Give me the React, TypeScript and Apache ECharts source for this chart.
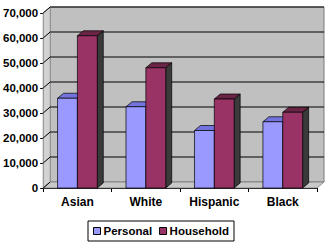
import React, { useEffect, useRef } from "react";
import * as echarts from "echarts";

const categories = ["Asian", "White", "Hispanic", "Black"];
const personal = [35900, 32500, 23000, 26500];
const household = [60900, 48100, 35600, 30300];
const yTicks = [0, 10000, 20000, 30000, 40000, 50000, 60000, 70000];

const FONT = "'Liberation Sans', Arial, sans-serif";
const WALL_DX = 7;
const WALL_DY = -6;
const BAR_DX = 6;
const BAR_DY = -5;

const seriesStyles = [
  { name: "Personal", front: "#9999FF", top: "#7373DD", side: "#5050A8" },
  { name: "Household", front: "#993366", top: "#6A2446", side: "#3A3A3A" },
];

const r = (v: number) => Math.round(v) + 0.5;

export default function App() {
  const ref = useRef<HTMLDivElement>(null);
  useEffect(() => {
    if (!ref.current) return;
    const chart = echarts.init(ref.current, undefined, { renderer: "svg" });

    const wallsRender = (params: any, api: any) => {
      const cs = params.coordSys;
      const x = cs.x;
      const y = cs.y;
      const w = cs.width;
      const h = cs.height;
      const right = x + w;
      const bottom = y + h;
      const children: any[] = [];
      children.push({
        type: "rect",
        shape: { x: x + WALL_DX, y: y + WALL_DY, width: w, height: h },
        style: { fill: "#C0C0C0", stroke: "#7a7a7a", lineWidth: 1 },
      });
      children.push({
        type: "polygon",
        shape: {
          points: [
            [x, y],
            [x + WALL_DX, y + WALL_DY],
            [x + WALL_DX, bottom + WALL_DY],
            [x, bottom],
          ],
        },
        style: { fill: "#D2D2D2", stroke: "#8a8a8a", lineWidth: 0.8 },
      });
      children.push({
        type: "polygon",
        shape: {
          points: [
            [x, bottom],
            [x + WALL_DX, bottom + WALL_DY],
            [right + WALL_DX, bottom + WALL_DY],
            [right, bottom],
          ],
        },
        style: { fill: "#C8C8C8", stroke: "#7a7a7a", lineWidth: 0.8 },
      });
      yTicks.forEach((v) => {
        const py = api.coord([0, v])[1];
        if (v !== 0) {
          children.push({
            type: "line",
            shape: {
              x1: x + WALL_DX,
              y1: r(py + WALL_DY) - 0.5,
              x2: right + WALL_DX,
              y2: r(py + WALL_DY) - 0.5,
            },
            style: { stroke: "#000", lineWidth: 1 },
          });
        }
        children.push({
          type: "line",
          shape: { x1: x, y1: py, x2: x + WALL_DX, y2: py + WALL_DY },
          style: { stroke: "#000", lineWidth: 1 },
        });
      });
      return { type: "group", children };
    };

    const barRender = (s: number) => (params: any, api: any) => {
      const i = api.value(0);
      const v = api.value(1);
      const base = api.coord([i, 0]);
      const top = api.coord([i, v]);
      const band = api.size([1, 0])[0];
      const bw = band * 0.29;
      const x0 = base[0] - bw + s * bw;
      const x1 = x0 + bw;
      const ty = top[1];
      const by = base[1];
      const st = seriesStyles[s];
      const stroke = { stroke: "#000", lineWidth: 0.7 };
      return {
        type: "group",
        children: [
          {
            type: "polygon",
            shape: {
              points: [
                [x1, ty],
                [x1 + BAR_DX, ty + BAR_DY],
                [x1 + BAR_DX, by + BAR_DY],
                [x1, by],
              ],
            },
            style: { fill: st.side, ...stroke },
          },
          {
            type: "polygon",
            shape: {
              points: [
                [x0, ty],
                [x1, ty],
                [x1 + BAR_DX, ty + BAR_DY],
                [x0 + BAR_DX, ty + BAR_DY],
              ],
            },
            style: { fill: st.top, ...stroke },
          },
          {
            type: "rect",
            shape: { x: x0, y: ty, width: bw, height: by - ty },
            style: { fill: st.front, ...stroke },
          },
        ],
      };
    };

    const option: any = {
      animation: false,
      backgroundColor: "#ffffff",
      textStyle: { fontFamily: FONT },
      grid: { left: 43, right: 13, top: 13, bottom: 60, containLabel: false },
      legend: {
        left: 88,
        top: 221,
        padding: [4, 5, 4, 5],
        borderColor: "#000",
        borderWidth: 1,
        itemWidth: 7,
        itemHeight: 7,
        itemGap: 7,
        icon: "rect",
        itemStyle: { borderColor: "#000", borderWidth: 1 },
        textStyle: {
          fontFamily: FONT,
          fontWeight: "bold",
          fontSize: 11.5,
          color: "#000",
          padding: [0, 0, 0, -2],
        },
        data: ["Personal", "Household"],
      },
      xAxis: {
        type: "category",
        data: categories,
        axisLine: { lineStyle: { color: "#000", width: 1 } },
        axisTick: { show: true, interval: 0, length: 4, lineStyle: { color: "#000" } },
        axisLabel: {
          interval: 0,
          margin: 8,
          color: "#000",
          fontFamily: FONT,
          fontWeight: "bold",
          fontSize: 12,
        },
        splitLine: { show: false },
      },
      yAxis: {
        type: "value",
        min: 0,
        max: 70000,
        interval: 10000,
        axisLine: { show: true, lineStyle: { color: "#000", width: 1 } },
        axisTick: { show: true, length: 3, lineStyle: { color: "#000" } },
        axisLabel: {
          margin: 5,
          color: "#000",
          fontFamily: FONT,
          fontWeight: "bold",
          fontSize: 11.5,
          formatter: (val: number) => val.toLocaleString("en-US"),
        },
        splitLine: { show: false },
      },
      series: [
        {
          type: "custom",
          name: "walls",
          renderItem: wallsRender,
          data: [[0, 0]],
          z: 1,
          silent: true,
          encode: { x: 0, y: 1 },
        },
        {
          type: "custom",
          name: "Personal",
          renderItem: barRender(0),
          data: personal.map((v, i) => [i, v]),
          itemStyle: { color: seriesStyles[0].front },
          encode: { x: 0, y: 1 },
          z: 2,
        },
        {
          type: "custom",
          name: "Household",
          renderItem: barRender(1),
          data: household.map((v, i) => [i, v]),
          itemStyle: { color: seriesStyles[1].front },
          encode: { x: 0, y: 1 },
          z: 3,
        },
      ],
    };
    chart.setOption(option);
    return () => chart.dispose();
  }, []);
  return (
    <div
      ref={ref}
      style={{ position: "absolute", left: 0, top: 0, width: 330, height: 248 }}
    />
  );
}
